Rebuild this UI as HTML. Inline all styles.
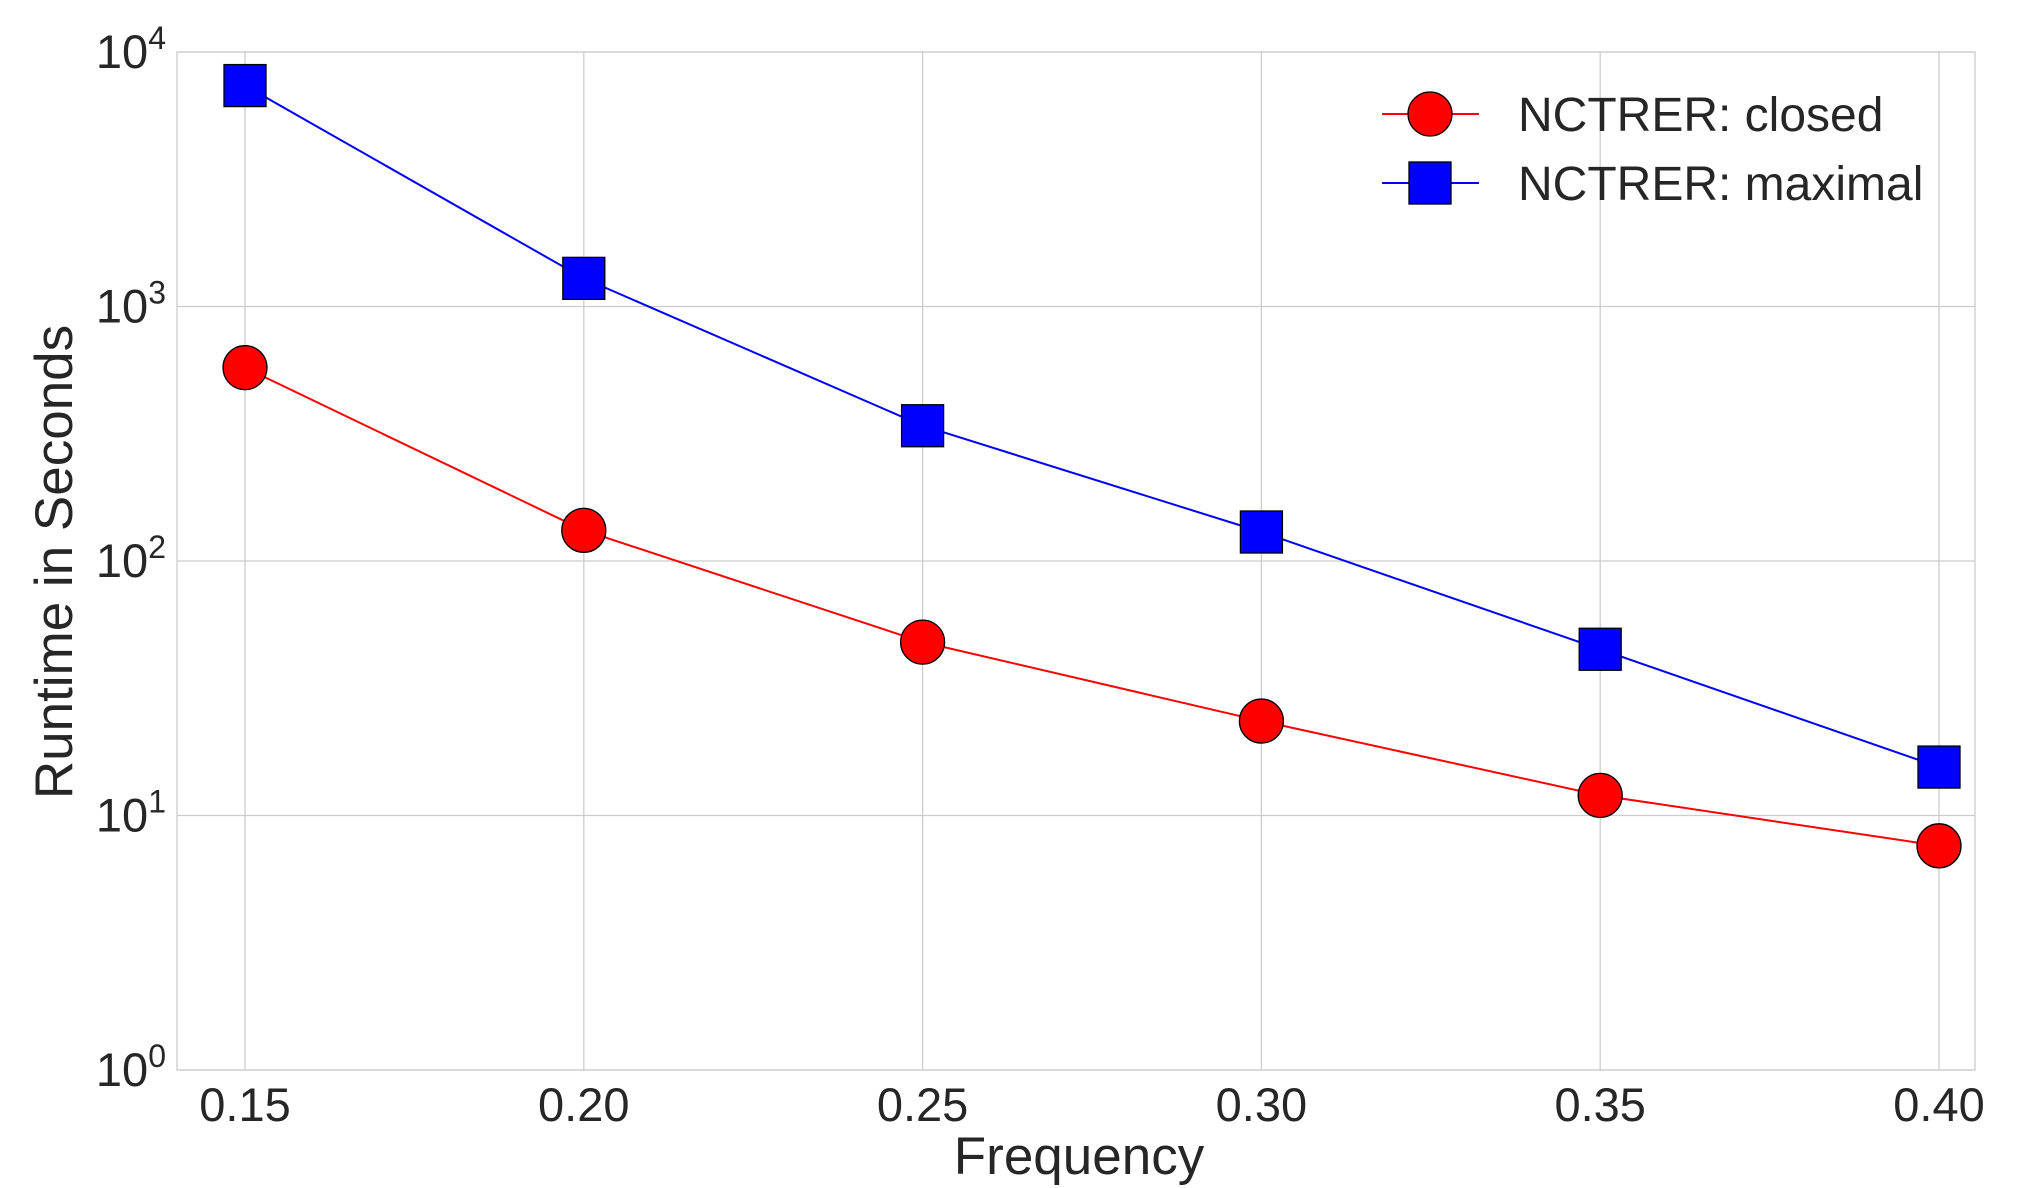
<!DOCTYPE html>
<html><head><meta charset="utf-8"><style>
html,body{margin:0;padding:0;background:#fff;}
svg{display:block;font-family:"Liberation Sans",sans-serif;}
</style></head><body>
<svg id="chart" width="2026" height="1188" viewBox="0 0 2026 1188">
<rect x="0" y="0" width="2026" height="1188" fill="#fff"/>
<g id="grid"></g><g id="axes"></g><g id="series"></g><g id="legend"></g>
</svg>
<script>
const xValues = [0.15, 0.20, 0.25, 0.30, 0.35, 0.40];
const closedValues = [575, 132, 48, 23.5, 12, 7.6];
const maximalValues = [7380, 1290, 340, 130, 45, 15.5];
const xTickLabels = ["0.15","0.20","0.25","0.30","0.35","0.40"];
const yExponents = [0,1,2,3,4];

const NS="http://www.w3.org/2000/svg";
const L=177,R=1975,T=52,B=1070;
function xs(v){return 245+(v-0.15)/(0.25)*(1939-245);}
function ys(v){return B-(Math.log10(v)-0)/4*(B-T);}
function mk(tag,attrs,parent){const e=document.createElementNS(NS,tag);for(const k in attrs)e.setAttribute(k,attrs[k]);parent.appendChild(e);return e;}
const grid=document.getElementById('grid'),axes=document.getElementById('axes'),series=document.getElementById('series'),legend=document.getElementById('legend');

xValues.forEach((v,i)=>{
  const x=xs(v);
  const g=mk('line',{x1:x,x2:x,y1:T,y2:B,stroke:'#cccccc','stroke-width':1.3},grid);
  
  
  const t=mk('text',{x:x,y:1121,'text-anchor':'middle','font-size':47,fill:'#262626'},axes);
  t.textContent=xTickLabels[i];
  
  
});
yExponents.forEach(e=>{
  const y=ys(Math.pow(10,e));
  const g=mk('line',{x1:L,x2:R,y1:y,y2:y,stroke:'#cccccc','stroke-width':1.3},grid);
  
  
  const t=mk('text',{x:166,y:y+16,'text-anchor':'end','font-size':47,fill:'#262626'},axes);
  t.innerHTML='10<tspan dy="-19" font-size="32">'+e+'</tspan>';
  
  
});
const frame=mk('rect',{x:L,y:T,width:R-L,height:B-T,fill:'none',stroke:'#cccccc','stroke-width':1.3},axes);


const xl=mk('text',{x:1079,y:1174,'text-anchor':'middle','font-size':53,fill:'#262626'},axes);
xl.textContent='Frequency';


const yl=mk('text',{x:0,y:0,transform:'translate(72,562) rotate(-90)','text-anchor':'middle','font-size':53,fill:'#262626'},axes);
yl.textContent='Runtime in Seconds';



function drawSeries(vals,color,shape,name){
  const pts=vals.map((v,i)=>xs(xValues[i])+','+ys(v)).join(' ');
  const pl=mk('polyline',{points:pts,fill:'none',stroke:color,'stroke-width':2},series);
  
  
  vals.forEach((v,i)=>{
    const x=xs(xValues[i]),y=ys(v);
    let m;
    if(shape==='circle') m=mk('circle',{cx:x,cy:y,r:22,fill:color,stroke:'#000','stroke-width':1.3},series);
    else m=mk('rect',{x:x-21,y:y-21,width:42,height:42,fill:color,stroke:'#000','stroke-width':1.3},series);
    
    
  });
}
drawSeries(closedValues,'#ff0000','circle','closed');
drawSeries(maximalValues,'#0000ff','square','maximal');

function legendEntry(y,color,shape,label,name){
  const g=mk('g',{},legend);
  
  
  mk('line',{x1:1382,x2:1479,y1:y,y2:y,stroke:color,'stroke-width':2},g);
  if(shape==='circle') mk('circle',{cx:1430,cy:y,r:22,fill:color,stroke:'#000','stroke-width':1.3},g);
  else mk('rect',{x:1409,y:y-21,width:42,height:42,fill:color,stroke:'#000','stroke-width':1.3},g);
  const t=mk('text',{x:1518,y:y+17,'font-size':48,fill:'#262626'},g);
  t.textContent=label;
}
legendEntry(114,'#ff0000','circle','NCTRER: closed','legend-entry-closed');
legendEntry(183,'#0000ff','square','NCTRER: maximal','legend-entry-maximal');
</script>
</body></html>
